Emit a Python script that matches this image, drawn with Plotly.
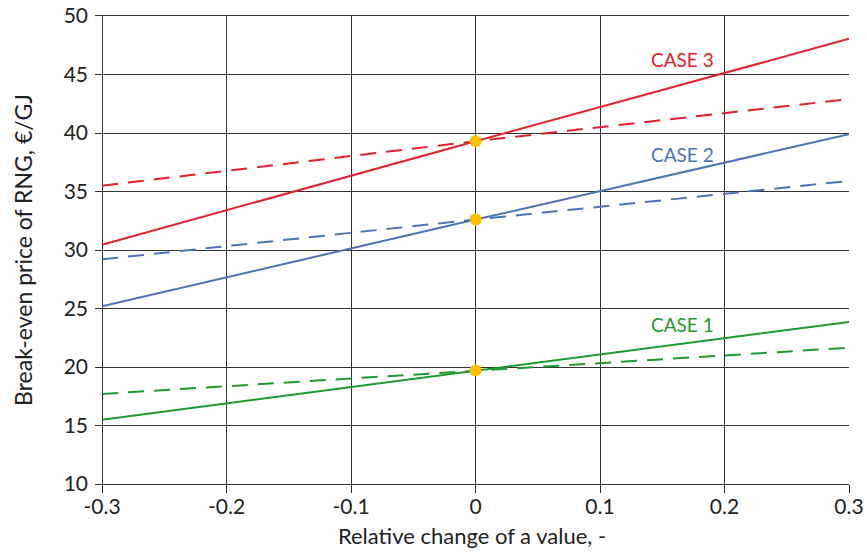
import plotly.graph_objects as go

x = [-0.3, 0.0, 0.3]
case3_solid = [30.45, 39.3, 48.05]
case3_dash = [35.5, 39.3, 42.9]
case2_solid = [25.2, 32.6, 39.9]
case2_dash = [29.2, 32.6, 35.9]
case1_solid = [15.5, 19.7, 23.85]
case1_dash = [17.7, 19.7, 21.65]
base_x = [0.0, 0.0, 0.0]
base_y = [39.3, 32.6, 19.7]

RED = "#E3202B"
BLUE = "#4A74B6"
GREEN = "#1F9A2E"
FONT = "Lato"

fig = go.Figure()
series = [
    (case3_solid, RED, "solid"), (case3_dash, RED, "16px,10px"),
    (case2_solid, BLUE, "solid"), (case2_dash, BLUE, "16px,10px"),
    (case1_solid, GREEN, "solid"), (case1_dash, GREEN, "16px,10px"),
]
for ys, c, d in series:
    fig.add_trace(go.Scatter(x=x, y=ys, mode="lines",
                             line=dict(color=c, width=2, dash=d),
                             showlegend=False, hoverinfo="skip"))
fig.add_trace(go.Scatter(x=base_x, y=base_y, mode="markers",
                         marker=dict(color="#FFC000", size=12),
                         showlegend=False))

labels = [("CASE 3", 46.3, RED), ("CASE 2", 38.2, BLUE), ("CASE 1", 23.6, GREEN)]
for t, yy, c in labels:
    fig.add_annotation(x=0.193, y=yy, text=t, showarrow=False, xanchor="right",
                       yanchor="middle", font=dict(family=FONT, size=19, color=c))

fig.update_layout(
    width=867, height=553,
    margin=dict(l=95, r=18, t=16, b=69),
    paper_bgcolor="white", plot_bgcolor="white",
    font=dict(family=FONT, size=21, color="#222"),
)
fig.update_xaxes(range=[-0.3057, 0.3], tickvals=[-0.3, -0.2, -0.1, 0, 0.1, 0.2, 0.3],
                 ticktext=["-0.3", "-0.2", "-0.1", "0", "0.1", "0.2", "0.3"],
                 showgrid=True, gridcolor="#333", gridwidth=1.3, automargin=False,
                 zeroline=False, showline=True, linecolor="#333", linewidth=1.3,
                 mirror=True, ticks="outside", ticklen=8, tickcolor="#333",
                 ticklabelstandoff=-4,
                 title=dict(text="Relative change of a value, -", font=dict(size=22), standoff=11))
fig.update_yaxes(range=[10, 50], dtick=5, showgrid=True, gridcolor="#333", gridwidth=1.3,
                 zeroline=False, showline=False, ticks="", ticklabelstandoff=6, automargin=False,
                 title=dict(text="Break-even price of RNG, €/GJ", font=dict(size=23), standoff=24))

fig.write_html("out.html")
